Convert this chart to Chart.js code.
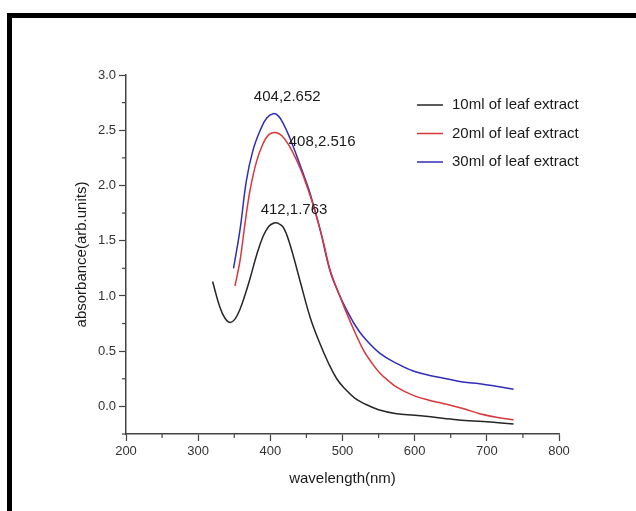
<!DOCTYPE html>
<html>
<head>
<meta charset="utf-8">
<script src="https://cdn.jsdelivr.net/npm/chart.js@4/dist/chart.umd.min.js"></script>
<style>
  body { margin: 0; background: #fff; }
  #wrap { position: relative; width: 636px; height: 511px; overflow: hidden; }
  #frame { position: absolute; left: 7px; top: 13px; width: 700px; height: 600px;
           border-top: 5px solid #000; border-left: 5px solid #000; pointer-events: none; }
</style>
</head>
<body>
<div id="wrap">
  <canvas id="graph" width="636" height="511"></canvas>
  <div id="frame"></div>
</div>
<script>
// series labels
var seriesNames = ["10ml of leaf extract", "20ml of leaf extract", "30ml of leaf extract"];

// 10ml
var wl10 = [320, 330, 337, 344, 351, 358, 365, 372, 381, 390, 398, 405, 410, 418, 427, 441, 455, 468, 480, 492, 504, 517, 530, 550, 575, 600, 625, 650, 675, 700, 720, 737];
var abs10 = [1.13, 0.90, 0.80, 0.76, 0.79, 0.88, 1.01, 1.16, 1.37, 1.54, 1.63, 1.66, 1.66, 1.62, 1.47, 1.14, 0.81, 0.58, 0.40, 0.25, 0.155, 0.075, 0.025, -0.03, -0.066, -0.08, -0.097, -0.115, -0.13, -0.14, -0.15, -0.16];

// 20ml
var wl20 = [351, 358, 365, 372, 381, 390, 398, 407, 416, 427, 437, 446, 460, 473, 483, 495, 506, 518, 529, 541, 552, 564, 575, 598, 621, 644, 667, 690, 715, 737];
var abs20 = [1.09, 1.32, 1.66, 1.96, 2.22, 2.38, 2.46, 2.48, 2.45, 2.35, 2.22, 2.08, 1.81, 1.50, 1.23, 1.02, 0.84, 0.66, 0.51, 0.39, 0.30, 0.23, 0.175, 0.10, 0.054, 0.02, -0.02, -0.066, -0.10, -0.12];

// 30ml
var wl30 = [349, 358, 367, 376, 386, 395, 404, 411, 418, 427, 437, 446, 455, 469, 483, 495, 506, 518, 529, 552, 575, 598, 621, 644, 667, 690, 715, 737];
var abs30 = [1.25, 1.60, 2.05, 2.32, 2.50, 2.61, 2.65, 2.63, 2.56, 2.43, 2.26, 2.10, 1.93, 1.60, 1.22, 1.02, 0.87, 0.73, 0.63, 0.48, 0.39, 0.32, 0.28, 0.25, 0.22, 0.205, 0.18, 0.155];

// peak labels
var peakText = ["412,1.763", "408,2.516", "404,2.652"];
var peakX = [412, 408, 404];
var peakY = [1.763, 2.516, 2.652];

var xTicks = [200, 300, 400, 500, 600, 700, 800];
var yTicks = [0.0, 0.5, 1.0, 1.5, 2.0, 2.5, 3.0];

function pts(xs, ys) {
	var out = [];
	for (var i = 0; i < xs.length; i++) out.push({x: xs[i], y: ys[i]});
	return out;
}

var colors = ["#262626", "#d9363a", "#2e2eb8"];
var font = "'Liberation Sans', Arial, sans-serif";

function isMajor(v, list) {
	for (var i = 0; i < list.length; i++) if (Math.abs(list[i] - v) < 1e-6) return true;
	return false;
}

var extras = {
	id: "extras",
	afterDraw: function(chart) {
		var ctx = chart.ctx;
		var xs = chart.scales.x, ys = chart.scales.y;
		ctx.save();
		// minor ticks
		ctx.strokeStyle = "#444";
		ctx.lineWidth = 1.2;
		xs.ticks.forEach(function(t) {
			if (isMajor(t.value, xTicks)) return;
			var px = xs.getPixelForValue(t.value);
			ctx.beginPath(); ctx.moveTo(px, xs.top); ctx.lineTo(px, xs.top + 4); ctx.stroke();
		});
		ys.ticks.forEach(function(t) {
			if (isMajor(t.value, yTicks)) return;
			var py = ys.getPixelForValue(t.value);
			ctx.beginPath(); ctx.moveTo(ys.right, py); ctx.lineTo(ys.right - 4, py); ctx.stroke();
		});
		// legend
		ctx.font = "15px " + font;
		ctx.textBaseline = "middle";
		ctx.textAlign = "left";
		chart.data.datasets.forEach(function(ds, i) {
			var y = 105 + i * 28.5;
			ctx.strokeStyle = ds.borderColor;
			ctx.lineWidth = 1.5;
			ctx.beginPath(); ctx.moveTo(417, y); ctx.lineTo(443, y); ctx.stroke();
			ctx.fillStyle = "#1a1a1a";
			ctx.fillText(ds.label, 452, y);
		});
		// peak labels
		var off = [[15, -2], [46, 13], [14, -17]];
		ctx.textAlign = "center";
		for (var k = 0; k < peakText.length; k++) {
			var px = xs.getPixelForValue(peakX[k]) + off[k][0];
			var py = ys.getPixelForValue(peakY[k]) + off[k][1];
			ctx.fillText(peakText[k], px, py);
		}
		ctx.restore();
	}
};

var ctx = document.getElementById("graph");
var graph = new Chart(ctx, {
	type: "line",
	data: {
		datasets: [{
			label: seriesNames[0], data: pts(wl10, abs10), borderColor: colors[0]
		}, {
			label: seriesNames[1], data: pts(wl20, abs20), borderColor: colors[1]
		}, {
			label: seriesNames[2], data: pts(wl30, abs30), borderColor: colors[2]
		}]
	},
	options: {
		responsive: false,
		animation: false,
		events: [],
		layout: { padding: { left: 0, top: 75, right: 77, bottom: 0 } },
		elements: {
			point: { radius: 0 },
			line: { borderWidth: 1.5, fill: false, tension: 0.4 }
		},
		plugins: { legend: { display: false }, tooltip: { enabled: false } },
		scales: {
			x: {
				type: "linear", min: 200, max: 800,
				afterFit: function(s) { s.height = 77; },
				border: { color: "#444", width: 1.5 },
				grid: { drawOnChartArea: false, tickLength: 7, tickWidth: 1.2,
					tickColor: function(c) { return isMajor(c.tick.value, xTicks) ? "#444" : "rgba(0,0,0,0)"; } },
				ticks: { stepSize: 50, padding: 3, color: "#333", font: { family: font, size: 13 },
					maxRotation: 0, autoSkip: false,
					callback: function(v) { return isMajor(v, xTicks) ? String(v) : ""; } },
				title: { display: true, text: "wavelength(nm)", color: "#1a1a1a",
					font: { family: font, size: 15 }, padding: { top: 0, bottom: 23 } }
			},
			y: {
				type: "linear", min: -0.25, max: 3.0,
				afterFit: function(s) { s.width = 126; },
				border: { color: "#444", width: 1.5 },
				grid: { drawOnChartArea: false, tickLength: 7, tickWidth: 1.2,
					tickColor: function(c) { return isMajor(c.tick.value, yTicks) ? "#444" : "rgba(0,0,0,0)"; } },
				ticks: { stepSize: 0.25, padding: 3, color: "#333", font: { family: font, size: 13 },
					autoSkip: false,
					callback: function(v) { return isMajor(v, yTicks) ? v.toFixed(1) : ""; } },
				title: { display: true, text: "absorbance(arb.units)", color: "#1a1a1a",
					font: { family: font, size: 15 }, padding: { top: 73, bottom: 0 } }
			}
		}
	},
	plugins: [extras]
});
</script>
</body>
</html>
